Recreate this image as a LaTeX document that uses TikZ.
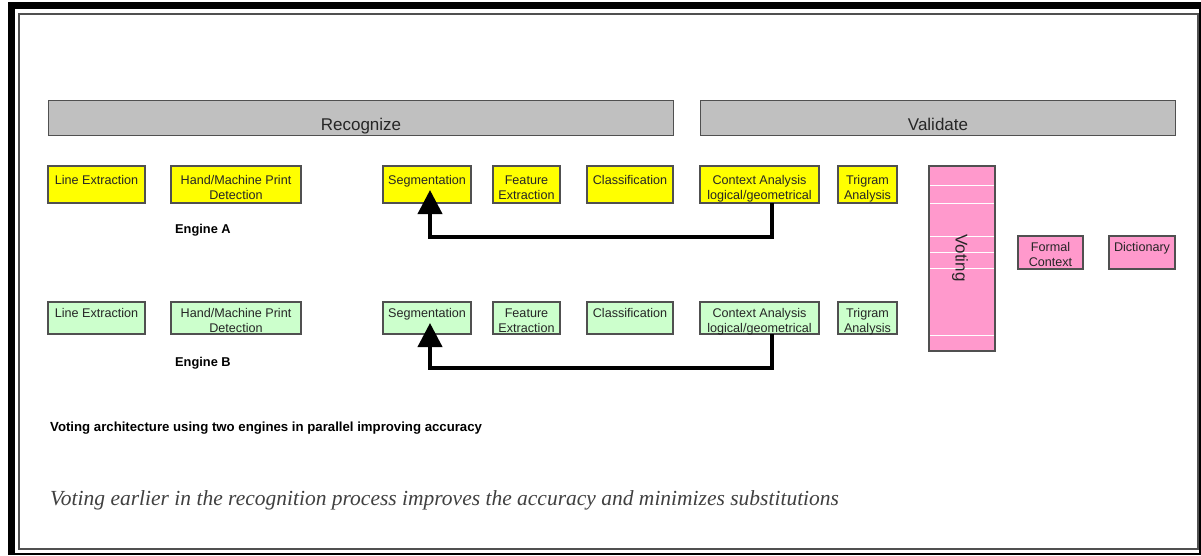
\documentclass[tikz,border=0pt]{standalone}
\usepackage{fontspec}
\setmainfont{Liberation Sans}
\newfontfamily\tnrfont{Liberation Serif}
\usetikzlibrary{arrows.meta}
\definecolor{ylw}{HTML}{FFFF00}
\definecolor{grn}{HTML}{CCFFCC}
\definecolor{pnk}{HTML}{FF99CC}
\definecolor{barg}{HTML}{C0C0C0}
\definecolor{edge}{HTML}{505050}
\newlength\firstbl
\newcommand\mybox[7]{%
  \node[boxst,fill=#7] (#1) at (#2,#3)
   {\parbox[c][#5pt][t]{#4pt}{\centering\rule{0pt}{\firstbl}#6\par}};}
\tikzset{
  boxst/.style={draw=edge, line width=1.1pt, anchor=north west, inner sep=0pt, outer sep=0pt,
     font=\fontsize{12.6}{15}\selectfont, text=black!85},
  barst/.style={draw=edge, line width=1.1pt, fill=barg, anchor=north west, inner sep=0pt},
  bartext/.style={anchor=base, font=\fontsize{17}{20}\selectfont, text=black!85},
  fb/.style={line width=4pt, line join=miter, -{Triangle[width=24pt,length=24pt]}},
  eng/.style={anchor=base west, inner sep=0pt, font=\bfseries\fontsize{12.8}{15}\selectfont},
}
\begin{document}
\begin{tikzpicture}[x=1pt,y=-1pt]
\useasboundingbox (0,0) rectangle (1201,556);
\fill[white] (0,0) rectangle (1201,556);
% frame
\fill[black] (8,2) rectangle (1201,9);
\fill[black] (8,2) rectangle (15,555);
\draw[black, line width=1.6pt] (15,554) -- (1200.2,554) -- (1200.2,9);
\draw[edge, line width=1.3pt] (19,14) rectangle (1198,549);
% bars
\node[barst, minimum width=625pt, minimum height=35pt] (recbar) at (48,100) {};
\node[barst, minimum width=475pt, minimum height=35pt] (valbar) at (700,100) {};
\node[bartext] (rect) at (361,131) {Recognize};
\node[bartext] (valt) at (938,131) {Validate};
% engine A
\setlength\firstbl{18.5pt}
\mybox{lineA}{48}{166}{97}{37}{Line Extraction}{ylw}
\mybox{handA}{171}{166}{130}{37}{Hand/Machine Print\\Detection}{ylw}
\mybox{segA}{383}{166}{88}{37}{Segmentation}{ylw}
\mybox{featA}{493}{166}{67}{37}{Feature\\Extraction}{ylw}
\mybox{clsA}{587}{166}{86}{37}{Classification}{ylw}
\mybox{ctxA}{700}{166}{119}{37}{Context Analysis\\logical/geometrical}{ylw}
\mybox{triA}{838}{166}{59}{37}{Trigram\\Analysis}{ylw}
% engine B
\setlength\firstbl{15.5pt}
\mybox{lineB}{48}{302}{97}{32}{Line Extraction}{grn}
\mybox{handB}{171}{302}{130}{32}{Hand/Machine Print\\Detection}{grn}
\mybox{segB}{383}{302}{88}{32}{Segmentation}{grn}
\mybox{featB}{493}{302}{67}{32}{Feature\\Extraction}{grn}
\mybox{clsB}{587}{302}{86}{32}{Classification}{grn}
\mybox{ctxB}{700}{302}{119}{32}{Context Analysis\\logical/geometrical}{grn}
\mybox{triB}{838}{302}{59}{32}{Trigram\\Analysis}{grn}
% voting
\node[boxst, fill=pnk, minimum width=66pt, minimum height=185pt] (vote) at (929,166) {};
\foreach \yy in {185,203,236,252,268,335}
  \draw[white, line width=0.8pt] (930,\yy) -- (994,\yy);
\node[rotate=-90, font=\fontsize{17}{18}\selectfont, text=black!85] (votet) at (960,258) {Voting};
\setlength\firstbl{15pt}
\mybox{formal}{1018}{236}{65}{33}{Formal\\Context}{pnk}
\mybox{dict}{1109}{236}{66}{33}{Dictionary}{pnk}
% feedback arrows
\draw[fb] ([xshift=12pt]ctxA.south) -- ++(0,34) -| ([xshift=3pt,yshift=13pt]segA.south);
\draw[fb] ([xshift=12pt]ctxB.south) -- ++(0,34) -| ([xshift=3pt,yshift=11pt]segB.south);
% labels
\node[eng] (engA) at (175,233) {Engine A};
\node[eng] (engB) at (175,366) {Engine B};
\node[eng, font=\bfseries\fontsize{13.2}{15}\selectfont] (cap1) at (50,431) {Voting architecture using two engines in parallel improving accuracy};
\node[anchor=base west, inner sep=0pt, font=\tnrfont\itshape\fontsize{21.5}{24}\selectfont, text=black!75] (cap2) at (50,505)
  {Voting earlier in the recognition process improves the accuracy and minimizes substitutions};
\end{tikzpicture}
\end{document}
